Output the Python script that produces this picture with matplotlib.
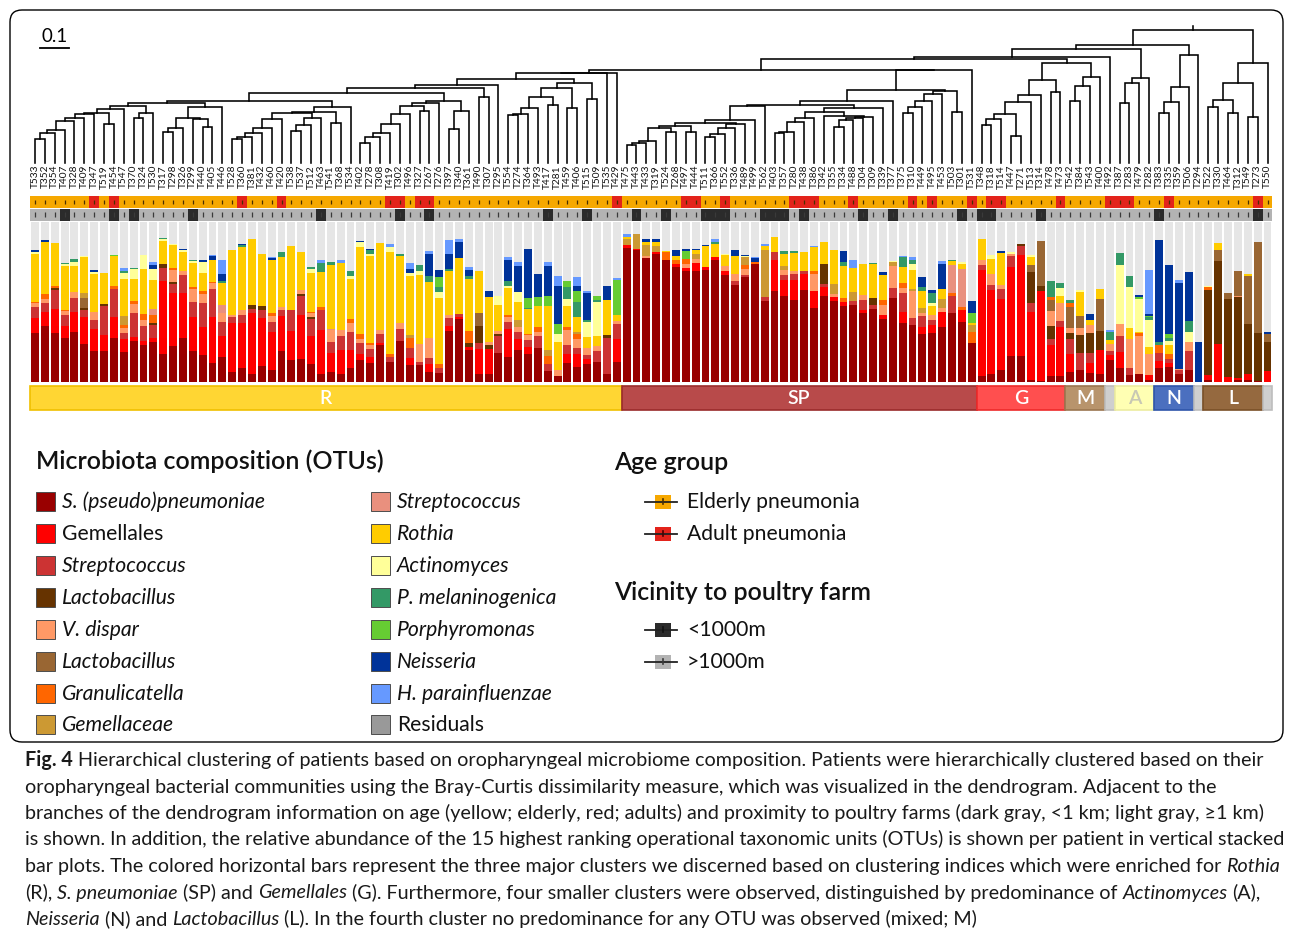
import numpy as np
import matplotlib
matplotlib.use("Agg")
import matplotlib.pyplot as plt
from matplotlib.patches import Rectangle, FancyBboxPatch
from matplotlib.collections import LineCollection
from matplotlib import transforms

plt.rcParams['font.family'] = ['Lato', 'DejaVu Sans']

# ---------------- data ----------------
patients = ["T533","T352","T354","T407","T328","T409","T347","T519","T454","T547",
            "T370","T324","T530","T317","T298","T326","T299","T440","T405","T446",
            "T528","T360","T381","T432","T460","T420","T538","T537","T512","T463",
            "T541","T368","T534","T402","T278","T308","T419","T302","T496","T327",
            "T267","T276","T397","T340","T361","T490","T307","T295","T554","T274",
            "T364","T493","T417","T281","T459","T406","T515","T509","T535","T429",
            "T475","T443","T433","T319","T524","T268","T497","T444","T511","T366",
            "T552","T336","T489","T499","T562","T403","T357","T280","T438","T386",
            "T342","T355","T334","T488","T304","T309","T339","T377","T375","T310",
            "T449","T495","T453","T503","T301","T531","T348","T318","T514","T447",
            "T271","T513","T314","T478","T473","T542","T384","T543","T400","T492",
            "T387","T283","T479","T282","T383","T335","T359","T506","T294","T522",
            "T330","T464","T312","T549","T273","T550"]

adult_patients = ["T347","T454","T360","T420","T419","T302","T327","T267","T429",
                  "T497","T444","T552","T280","T438","T386","T488","T310","T495",
                  "T531","T318","T514","T473","T492","T387","T283","T335","T273"]

near_farm_patients = ["T407","T454","T370","T299","T463","T302","T267","T417","T515",
                      "T443","T524","T511","T366","T552","T562","T403","T357","T438",
                      "T304","T377","T301","T348","T318","T314","T383","T273"]

# cophenetic (Bray-Curtis) height at which neighbouring leaves i and i+1 merge
merge_heights = [
    .083,.103,.114,.145,.155,.169,.172,.134,.186,.197,
    .155,.172,.207,.107,.121,.155,.152,.124,.193,.214,
    .083,.090,.103,.121,.152,.172,.110,.131,.155,.176,
    .138,.193,.242,.069,.090,.103,.134,.169,.197,.179,
    .207,.214,.117,.179,.259,.228,.269,.290,.166,.169,
    .190,.228,.200,.259,.190,.276,.221,.309,.310,.322,
    .062,.069,.076,.121,.107,.128,.107,.138,.090,.100,
    .121,.134,.148,.197,.200,.103,.107,.141,.155,.176,
    .162,.124,.148,.155,.159,.190,.214,.252,.172,.193,
    .214,.238,.248,.176,.319,.359,.131,.152,.169,.093,
    .210,.234,.286,.245,.345,.214,.266,.297,.366,.393,
    .207,.276,.293,.407,.172,.210,.262,.372,.459,.193,
    .217,.172,.276,.159,.345]

s_pneumoniae = [
    .304,.350,.304,.273,.312,.235,.193,.193,.277,.187,
    .256,.233,.249,.178,.224,.273,.193,.166,.119,.157,
    .063,.088,.048,.103,.073,.193,.136,.143,.111,.052,
    .063,.052,.088,.140,.119,.231,.126,.256,.105,.105,
    .063,.057,.319,.392,.199,.052,.052,.182,.157,.199,
    .174,.214,.067,.038,.119,.094,.115,.126,.052,.126,
    .839,.824,.776,.797,.765,.719,.692,.692,.698,.765,
    .671,.608,.654,.738,.509,.570,.539,.514,.572,.461,
    .535,.509,.472,.482,.430,.457,.392,.524,.367,.356,
    .300,.304,.346,.430,.377,.241,.038,.052,.073,.164,
    .164,.010,.005,.038,.038,.063,.078,.057,.052,.140,
    .090,.042,.052,.010,.090,.094,.052,.073,0,.010,
    0,0,.010,.010,.004,0]
gemellales = [
    .094,.090,.153,.080,.126,.170,.136,.101,.132,.080,
    .027,.025,.023,.451,.331,.283,.216,.176,.285,.130,
    .304,.283,.382,.296,.241,.220,.184,.277,.176,.273,
    .119,.147,.111,.038,.038,.010,0,0,.042,0,
    .052,0,.034,.017,.021,.157,.157,0,.172,.069,
    .046,0,0,0,.059,.084,.031,0,0,.140,
    .017,.008,0,.017,0,.019,.021,.052,.021,.015,
    .025,0,0,0,0,.195,.096,.122,.103,.109,
    .057,.021,.031,0,.021,0,.027,0,.073,0,
    .046,.052,.094,0,.073,0,.665,.520,.447,.556,
    .629,.430,.562,.193,.304,.111,0,.063,.151,.027,
    .099,0,0,.031,.042,.025,0,0,0,.031,
    .237,.031,.015,.042,0,.069]
streptococcus_1 = [
    .069,.052,.119,.067,.086,.042,.059,.178,.174,.042,
    .151,.092,.084,.084,.059,.115,.088,.151,.176,.090,
    .042,.046,.029,.052,.063,.038,.130,.119,.105,.122,
    .069,.088,.115,.063,.052,.059,.031,.073,.063,.021,
    .036,.031,.050,.017,0,.036,0,.105,.048,.046,
    .042,.073,.048,0,.052,.036,.025,.069,.220,.096,
    0,0,0,0,0,0,0,0,0,0,
    0,.021,.017,0,.025,.046,.036,.036,.017,0,
    .023,0,0,.027,.063,.025,0,.063,.115,.046,
    .067,.031,0,.109,0,0,.031,.036,.063,.067,
    .057,.052,0,.036,.040,.092,.101,.059,0,.027,
    .099,.048,0,0,.050,.027,.025,.119,0,0,
    0,0,0,0,0,0]
lactobacillus_1 = [
    0,0,.010,0,0,.015,0,.015,0,0,
    0,0,.015,.025,.010,0,0,0,0,0,
    0,0,.023,.021,0,0,0,.010,.013,0,
    0,0,0,0,0,0,0,0,0,0,
    0,0,0,0,.025,.107,.025,.010,0,0,
    0,0,0,0,0,0,0,0,.021,0,
    0,0,0,0,0,0,0,0,0,0,
    0,0,0,0,0,0,0,0,0,0,
    .124,0,0,0,0,.042,0,0,0,0,
    0,0,0,0,0,0,0,0,0,0,
    .015,.195,.031,.084,0,.042,.115,.126,.115,0,
    0,0,0,0,0,0,0,0,0,.535,
    .518,.490,.505,.310,.300,.178]
v_dispar = [
    .025,.025,0,.021,.036,0,.052,0,0,.031,
    .055,.038,0,0,.078,.025,.084,.059,.038,.052,
    .010,.034,0,0,.036,.017,0,.027,.025,0,
    .073,.038,.052,.027,.021,.025,0,.038,0,.109,
    .126,0,.017,0,0,0,.017,.021,.031,.031,
    .031,.027,0,.036,.094,.052,.042,.029,0,.019,
    0,0,.010,0,0,0,.027,.027,0,0,
    .027,.046,.036,0,0,0,.031,.021,0,.105,
    0,.021,0,0,.031,0,.063,.140,.031,.168,
    .021,.031,.021,0,0,0,.031,.069,.025,.015,
    0,0,0,.090,.111,.027,.042,.052,0,.042,
    .073,.176,.235,.136,0,0,.006,.055,0,0,
    0,0,.010,0,0,0]
lactobacillus_2 = [
    0,0,0,0,0,.063,0,0,0,0,
    0,0,0,0,0,0,0,0,0,0,
    0,0,0,0,0,0,0,0,0,0,
    0,0,0,0,0,0,0,0,0,0,
    0,0,0,0,0,.078,0,0,0,0,
    0,0,0,0,0,0,0,0,0,0,
    0,0,0,0,0,0,0,0,0,0,
    0,0,0,0,0,0,0,0,0,0,
    0,0,0,0,0,0,0,0,0,0,
    0,0,0,0,0,0,0,0,0,0,
    0,.046,.283,.073,0,.132,.078,0,.199,0,
    0,0,0,0,0,0,0,0,0,0,
    .067,.034,.155,.298,.570,.050]
granulicatella = [
    .010,.031,.015,.010,0,0,0,0,.015,.015,
    .019,.036,.048,0,.010,0,.013,.019,.010,0,
    0,0,0,0,.021,0,0,0,.010,.021,
    0,0,.025,.029,.015,0,.021,0,.063,0,
    0,.027,0,0,.075,0,0,0,.010,0,
    .010,.031,.048,0,.021,.034,0,0,0,0,
    0,0,0,0,.050,.027,.031,0,0,0,
    0,0,.027,.013,0,0,0,0,0,.017,
    0,0,.021,0,0,0,.031,0,.031,0,
    0,0,0,.017,.021,.073,0,0,0,0,
    0,0,0,.017,0,.029,0,0,0,0,
    0,0,.017,0,.048,.031,0,0,0,.017,
    0,0,0,0,0,0]
gemellaceae = [
    0,0,0,0,0,.031,0,0,0,.055,
    0,0,0,0,0,0,0,0,0,0,
    0,0,0,0,0,0,0,0,0,0,
    0,0,0,0,0,0,0,0,.021,0,
    0,0,0,0,0,0,0,0,0,.042,
    0,0,.036,0,0,.010,0,0,0,0,
    .040,.090,.069,.036,0,0,0,.031,0,0,
    0,0,.046,0,.289,0,.021,0,0,0,
    0,.063,0,.052,0,0,0,.021,0,.013,
    .027,0,.057,0,0,.042,0,0,0,0,
    0,0,0,0,0,0,0,0,0,0,
    0,0,0,0,0,0,0,0,0,0,
    0,0,0,0,0,0]
streptococcus_2 = [
    0,0,0,0,0,0,0,0,0,0,
    0,0,.036,0,0,0,0,0,0,.052,
    0,0,0,0,0,0,0,0,0,0,
    .010,0,0,0,0,0,0,0,0,0,
    0,0,0,0,0,0,0,0,0,0,
    0,0,0,0,0,0,0,0,0,0,
    0,0,0,0,0,0,0,0,0,0,
    0,0,0,0,0,0,0,0,0,0,
    0,0,0,0,0,0,0,0,0,0,
    0,0,0,.178,.237,0,0,0,0,0,
    0,0,0,0,0,0,0,0,0,0,
    0,0,0,0,0,0,0,0,0,0,
    0,0,0,0,0,0]
rothia = [
    .298,.327,.268,.277,.164,.224,.237,.196,.189,.231,
    .138,.283,.180,.143,.143,.115,.151,.111,.136,.136,
    .403,.394,.413,.331,.327,.312,.398,.235,.241,.218,
    .398,.419,.252,.545,.541,.545,.633,.423,.371,.434,
    .346,.409,.273,.346,.323,.266,.283,.164,.168,.115,
    .151,.130,.273,.174,.130,.094,.069,.063,.220,.038,
    .010,.005,.021,.027,.006,.021,0,.021,.130,.084,
    .073,.111,0,0,.029,.097,.080,.115,.119,.151,
    .138,.214,.199,.151,.193,.214,.157,0,.101,.119,
    .109,.057,.063,.025,.029,.015,.126,.092,.199,0,
    0,.048,0,0,.046,0,.147,.031,.063,.029,
    0,.069,.010,.042,0,.052,0,0,0,0,
    .044,0,0,.015,0,0]
actinomyces = [
    .013,0,0,.010,.025,.006,.008,0,0,.038,
    .063,.086,.071,.010,.008,.013,.010,.067,0,0,
    0,0,0,0,0,0,0,0,.025,0,
    0,0,.021,.030,.015,0,.034,0,.017,.023,
    0,.036,0,0,0,0,0,.057,.015,.063,
    0,0,0,.052,.042,0,.090,.216,0,0,
    0,0,0,0,0,0,0,0,0,0,
    .006,0,.006,0,0,0,0,0,0,0,
    0,0,0,0,0,0,0,.007,0,.038,
    0,.017,0,0,.010,0,0,.023,0,.013,
    0,.015,0,0,.048,0,.017,0,0,0,
    .369,.256,.203,.168,0,.025,0,.067,0,.008,
    0,0,0,0,0,0]
p_melaninogenica = [
    0,0,0,.006,.017,0,0,0,0,.015,
    .006,0,0,.006,0,0,.006,0,0,.015,
    0,.013,0,0,0,.031,0,0,.013,.059,
    .017,0,.027,0,.023,0,0,.010,0,.042,
    .038,.031,.015,0,.017,0,0,0,.031,0,
    .010,0,0,0,.075,.099,.015,.008,0,0,
    0,0,0,0,0,0,0,0,0,.013,
    0,0,0,0,0,0,.015,.010,0,0,
    0,0,.027,0,0,.006,0,0,.061,.025,
    .021,.063,0,.006,0,0,0,0,0,0,
    0,0,0,.099,.031,.017,0,0,0,.048,
    .078,.069,0,.017,.021,.021,0,.067,0,0,
    0,0,0,0,0,0]
porphyromonas = [
    0,0,0,0,0,0,0,0,.008,0,
    0,0,0,0,0,0,0,0,0,0,
    0,0,0,0,0,0,0,0,0,0,
    0,0,0,0,0,0,0,0,0,0,
    0,.063,0,0,0,0,0,0,0,0,
    .059,.055,.063,.061,.042,.063,0,.027,0,.220,
    0,0,0,0,0,0,.046,0,0,0,
    0,0,0,0,0,0,0,0,0,0,
    0,0,0,0,0,0,0,0,0,0,
    0,0,0,0,0,.059,0,0,0,0,
    0,0,0,0,0,0,0,0,0,0,
    0,0,.013,.010,0,.027,0,0,0,0,
    0,0,0,0,0,0]
neisseria = [
    .010,.015,0,0,0,0,.013,0,0,0,
    0,0,.027,0,0,.010,0,.013,.021,.044,
    .006,.004,0,0,.015,0,0,0,0,0,
    0,0,.004,.012,.008,0,0,0,.025,0,
    .140,.048,.090,.105,.042,0,.036,0,.132,.157,
    .310,.145,.189,.241,0,.031,.172,0,.088,0,
    0,0,.015,.015,0,.036,.017,.008,.010,0,
    0,.042,.006,.025,0,0,0,0,0,0,
    0,0,.071,0,0,0,.015,0,0,0,
    .063,.021,.157,0,0,.078,0,0,.010,0,
    0,0,0,0,0,0,0,.038,0,0,
    0,0,.015,.008,.639,.430,.535,.306,.247,0,
    0,0,0,0,0,.013]
h_parainfluenzae = [
    0,0,0,0,0,0,0,0,0,.021,
    0,0,.017,0,0,0,0,0,.010,.088,
    0,0,0,0,.006,0,0,0,0,.015,
    0,.021,0,0,0,0,.015,0,.038,0,
    .017,0,.088,.015,.015,0,0,0,.015,.031,
    0,0,.027,.059,0,.059,.010,0,0,.010,
    .017,0,0,0,0,0,0,0,0,.015,
    0,0,0,.004,.013,0,0,0,0,.010,
    0,0,0,.052,0,0,0,0,.007,.017,
    0,0,.017,0,0,0,0,0,0,0,
    0,0,0,0,0,0,0,0,0,.010,
    0,0,0,.279,0,0,.021,0,0,0,
    0,0,0,0,0,0]

otu_names = ["S. (pseudo)pneumoniae", "Gemellales", "Streptococcus", "Lactobacillus",
             "V. dispar", "Lactobacillus", "Granulicatella", "Gemellaceae",
             "Streptococcus", "Rothia", "Actinomyces", "P. melaninogenica",
             "Porphyromonas", "Neisseria", "H. parainfluenzae"]
otu_values = [s_pneumoniae, gemellales, streptococcus_1, lactobacillus_1, v_dispar,
              lactobacillus_2, granulicatella, gemellaceae, streptococcus_2, rothia,
              actinomyces, p_melaninogenica, porphyromonas, neisseria, h_parainfluenzae]
otu_colors = ["#990000", "#ff0000", "#cc3333", "#663300", "#ff9966", "#996633",
              "#ff6600", "#cc9933", "#e9907e", "#ffcc00", "#ffff99", "#339966",
              "#66cc33", "#003399", "#6699ff"]
otu_italic = [True, False, True, True, True, True, True, True,
              True, True, True, True, True, True, True]

cluster_labels = ["R", "SP", "G", "M", "", "A", "N", "", "L", ""]
cluster_sizes = [60, 36, 9, 4, 1, 4, 4, 1, 6, 1]
cluster_face = ["#ffd633", "#b84a4a", "#ff4f4f", "#b8946c", "#cfcfcf",
                "#ffffb3", "#4b6fbf", "#cfcfcf", "#95693f", "#cfcfcf"]
cluster_edge = ["#f0c000", "#9a2b2b", "#ee2a2a", "#9b7650", "#bdbdbd",
                "#ececa0", "#2f55aa", "#bdbdbd", "#7a5028", "#bdbdbd"]
cluster_text = ["white", "white", "white", "white", "white",
                "#c8c8b4", "white", "white", "white", "white"]

n = len(patients)
for nm, v in zip(otu_names, otu_values):
    assert len(v) == n, (nm, len(v))
assert len(merge_heights) == n - 1

# ---------------- figure ----------------
W, H = 1293, 938
fig = plt.figure(figsize=(W / 100, H / 100), dpi=100)
fig.patch.set_facecolor("white")
ax0 = fig.add_axes([0, 0, 1, 1])
ax0.set_xlim(0, W)
ax0.set_ylim(H, 0)
ax0.axis("off")
renderer = fig.canvas.get_renderer()


def px_axes(x0, y0, x1, y1):
    a = fig.add_axes([x0 / W, 1 - y1 / H, (x1 - x0) / W, (y1 - y0) / H])
    a.axis("off")
    a.set_xlim(-0.5, n - 0.5)
    return a


pitch, first = 9.86, 35.0
X0 = first - 0.5 * pitch
X1 = first + (n - 0.5) * pitch
xs = np.arange(n)

# frame
ax0.add_patch(FancyBboxPatch((10, 10), 1273, 732,
                             boxstyle="round,pad=0,rounding_size=12",
                             fill=False, edgecolor="black", lw=1.0))

# ---- dendrogram ----
ax_den = px_axes(X0, 25, X1, 163)
ax_den.set_ylim(0, (163 - 25) / 290.0)
gaps = np.array(merge_heights)
segs = []


def build(a, b):
    if a == b:
        return float(a), 0.0
    k = a + int(np.argmax(gaps[a:b]))
    xl, hl = build(a, k)
    xr, hr = build(k + 1, b)
    h = gaps[k]
    segs.append([(xl, hl), (xl, h), (xr, h), (xr, hr)])
    return (xl + xr) / 2, h


rx, rh = build(0, n - 1)
ax_den.add_collection(LineCollection(segs, colors="black", linewidths=1.15,
                                     joinstyle="miter", capstyle="projecting",
                                     clip_on=False))
ax_den.plot([rx, rx], [rh, rh + 0.012], color="black", lw=1.15, clip_on=False)

tr = transforms.blended_transform_factory(ax_den.transData, ax0.transData)
for i, p in enumerate(patients):
    ax0.text(i, 165, p, transform=tr, rotation=90, ha="center", va="top",
             fontsize=7.3, color="#111111")

# scale bar
p0 = ax_den.transData.transform((0, 0))
p1 = ax_den.transData.transform((0, 0.1))
L = p1[1] - p0[1]
ax0.plot([40, 40 + L], [48, 48], color="black", lw=1.3)
ax0.text(40 + L / 2, 45, "0.1", ha="center", va="bottom", fontsize=13.5)

# ---- age / vicinity rows ----
ax_rows = px_axes(X0, 196, X1, 221)
ax_rows.set_ylim(0, 2)
age_cols = ["#e3231b" if p in adult_patients else "#f6a800" for p in patients]
vic_cols = ["#2b2b2b" if p in near_farm_patients else "#b3b3b3" for p in patients]
ax_rows.bar(xs, 0.96, bottom=1.04, width=1.0, color=age_cols, lw=0)
ax_rows.bar(xs, 0.96, bottom=0.0, width=1.0, color=vic_cols, lw=0)
ax_rows.vlines(xs, 1.33, 1.72, color="#4a3000", lw=0.9)
ax_rows.vlines(xs, 0.30, 0.68, color="#3a3a3a", lw=0.9)

# ---- stacked bars ----
ax_bar = px_axes(X0, 222, X1, 382)
ax_bar.set_ylim(0, 1)
ax_bar.bar(xs, 1.0, width=0.8, color="#e6e6e6", lw=0)
bottom = np.zeros(n)
for vals, col in zip(otu_values, otu_colors):
    v = np.asarray(vals, dtype=float)
    ax_bar.bar(xs, v, bottom=bottom, width=0.8, color=col, lw=0)
    bottom += v

# ---- cluster bar ----
ax_clu = px_axes(X0, 385, X1, 411)
ax_clu.set_ylim(0, 1)
start = 0
for lab, size, fc, ec, tc in zip(cluster_labels, cluster_sizes, cluster_face,
                                 cluster_edge, cluster_text):
    ax_clu.add_patch(Rectangle((start - 0.5, 0.03), size, 0.94, facecolor=fc,
                               edgecolor=ec, lw=1.2, clip_on=False))
    if lab:
        ax_clu.text(start - 0.5 + size / 2, 0.47, lab, ha="center", va="center",
                    color=tc, fontsize=14, fontweight="semibold")
    start += size

# ---- legends ----
title_kw = dict(fontsize=18, fontweight="semibold", ha="left", va="center",
                color="#111111")
ax0.text(36, 461, "Microbiota composition (OTUs)", **title_kw)
ax0.text(614, 462, "Age group", **title_kw)
ax0.text(614, 593, "Vicinity to poultry farm", **title_kw)

leg_size = 15.2
leg_names = otu_names + ["Residuals"]
leg_cols = otu_colors + ["#999999"]
leg_ital = otu_italic + [False]
row_y = [502, 534, 566, 598, 630, 662, 694, 725]
for j, (nm, c, it) in enumerate(zip(leg_names, leg_cols, leg_ital)):
    col, row = divmod(j, 8)
    sx = 36 if col == 0 else 371
    y = row_y[row]
    ax0.add_patch(Rectangle((sx, y - 9.5), 19, 19, facecolor=c,
                            edgecolor="#4d4d4d", lw=0.7))
    ax0.text(sx + 26, y, nm, ha="left", va="center", fontsize=leg_size,
             fontstyle="italic" if it else "normal", color="#111111")

marker_items = [(502, "#f6a800", "#4a3000", "Elderly pneumonia"),
                (534, "#e3231b", "#4a0000", "Adult pneumonia"),
                (630, "#2b2b2b", "#111111", "<1000m"),
                (662, "#b3b3b3", "#3a3a3a", ">1000m")]
for y, fc, tc, lab in marker_items:
    ax0.plot([645, 677], [y, y], color="#222222", lw=1.3)
    ax0.add_patch(Rectangle((655, y - 7), 16, 14, facecolor=fc, edgecolor="none"))
    ax0.plot([663, 663], [y - 2.5, y + 2.5], color=tc, lw=1.2)
    ax0.text(687, y, lab, ha="left", va="center", fontsize=leg_size, color="#111111")

# ---- caption ----
caption = [
    [("Fig. 4", "b"), (" Hierarchical clustering of patients based on oropharyngeal microbiome composition. Patients were hierarchically clustered based on their", "n")],
    [("oropharyngeal bacterial communities using the Bray-Curtis dissimilarity measure, which was visualized in the dendrogram. Adjacent to the", "n")],
    [("branches of the dendrogram information on age (yellow; elderly, red; adults) and proximity to poultry farms (dark gray, <1 km; light gray, \u22651 km)", "n")],
    [("is shown. In addition, the relative abundance of the 15 highest ranking operational taxonomic units (OTUs) is shown per patient in vertical stacked", "n")],
    [("bar plots. The colored horizontal bars represent the three major clusters we discerned based on clustering indices which were enriched for ", "n"), ("Rothia", "i")],
    [("(R), ", "n"), ("S. pneumoniae", "i"), (" (SP) and ", "n"), ("Gemellales", "i"),
     (" (G). Furthermore, four smaller clusters were observed, distinguished by predominance of ", "n"),
     ("Actinomyces", "i"), (" (A),", "n")],
    [("Neisseria", "i"), (" (N) and ", "n"), ("Lactobacillus", "i"),
     (" (L). In the fourth cluster no predominance for any OTU was observed (mixed; M)", "n")],
]


def text_w(s, size, **kw):
    t = ax0.text(0, 0, s, fontsize=size, **kw)
    w = t.get_window_extent(renderer=renderer).width
    t.remove()
    return w


# fit the caption font so that the second line spans the same width as in the figure
ref_size = 12.0
cap_size = ref_size * 1186.0 / text_w(caption[1][0][0], ref_size)
space_w = text_w("a a", cap_size) - text_w("aa", cap_size)


def rich_line(x, y, pieces):
    for txt, style in pieces:
        kw = {}
        if style == "b":
            kw["fontweight"] = "bold"
        elif style == "i":
            kw["fontstyle"] = "italic"
        lead = len(txt) - len(txt.lstrip(" "))
        trail = len(txt) - len(txt.rstrip(" "))
        core = txt.strip(" ")
        x += lead * space_w
        t = ax0.text(x, y, core, fontsize=cap_size, ha="left", va="baseline",
                     color="#1a1a1a", **kw)
        x += t.get_window_extent(renderer=renderer).width + trail * space_w


for k, pieces in enumerate(caption):
    rich_line(25, 766 + 26.5 * k, pieces)

fig.savefig("out.png", dpi=100)
